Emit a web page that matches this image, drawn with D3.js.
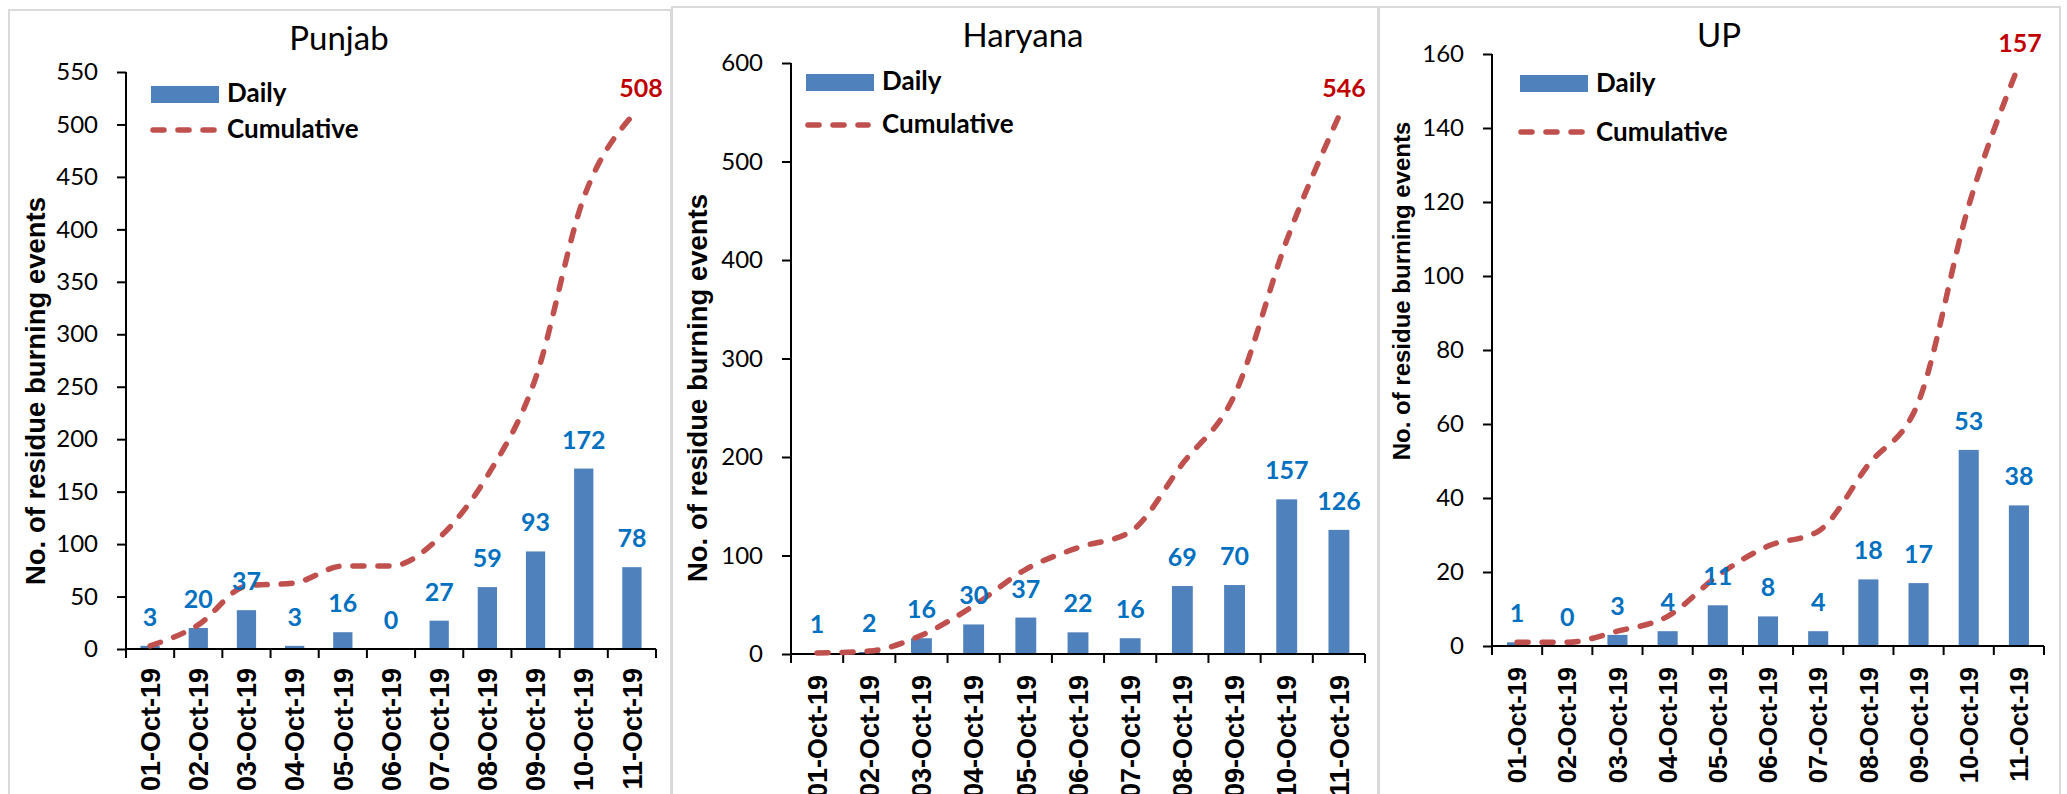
<!DOCTYPE html>
<html>
<head>
<meta charset="utf-8">
<script src="https://cdn.jsdelivr.net/npm/d3@7"></script>
<style>
  body { margin: 0; background: #fff; }
  svg { display: block; }
</style>
</head>
<body>
<svg id="chart" width="2067" height="794"></svg>
<script>
// 数据
var dates = ["01-Oct-19", "02-Oct-19", "03-Oct-19", "04-Oct-19", "05-Oct-19", "06-Oct-19",
             "07-Oct-19", "08-Oct-19", "09-Oct-19", "10-Oct-19", "11-Oct-19"];

var punjabDaily = [3, 20, 37, 3, 16, 0, 27, 59, 93, 172, 78];
var punjabCumulative = [3, 23, 60, 63, 79, 79, 106, 165, 258, 430, 508];
var punjabTicks = [0, 50, 100, 150, 200, 250, 300, 350, 400, 450, 500, 550];

var haryanaDaily = [1, 2, 16, 30, 37, 22, 16, 69, 70, 157, 126];
var haryanaCumulative = [1, 3, 19, 49, 86, 108, 124, 193, 263, 420, 546];
var haryanaTicks = [0, 100, 200, 300, 400, 500, 600];

var upDaily = [1, 0, 3, 4, 11, 8, 4, 18, 17, 53, 38];
var upCumulative = [1, 1, 4, 8, 19, 27, 31, 49, 66, 119, 157];
var upTicks = [0, 20, 40, 60, 80, 100, 120, 140, 160];

var yTitleText = "No. of residue burning events";

// 面板布局
var panels = [
  { title: "Punjab", daily: punjabDaily, cum: punjabCumulative, ticks: punjabTicks,
    box: [9, 10, 662], x0: 126, x1: 656, y0: 649, y1: 72, titleX: 339, titleY: 50,
    leg: { rx: 151, ry: 86, rw: 68, rh: 17, tx: 227, dailyY: 102, dashY: 130, dx0: 150, dx1: 214, cumY: 138 },
    endDx: 9, endDy: 19, yTitleX: 35, yTitleY: 391, yTitleSize: 27.5, dateTop: 668, dateSize: 27 },
  { title: "Haryana", daily: haryanaDaily, cum: haryanaCumulative, ticks: haryanaTicks,
    box: [672, 7, 706], x0: 791, x1: 1365, y0: 654, y1: 63, titleX: 1023, titleY: 47,
    leg: { rx: 806, ry: 74, rw: 68, rh: 17, tx: 882, dailyY: 90, dashY: 125, dx0: 805, dx1: 868, cumY: 133 },
    endDx: 5, endDy: 19, yTitleX: 697, yTitleY: 388, yTitleSize: 27.5, dateTop: 675, dateSize: 27 },
  { title: "UP", daily: upDaily, cum: upCumulative, ticks: upTicks,
    box: [1379, 7, 681], x0: 1492, x1: 2044, y0: 646, y1: 54, titleX: 1719, titleY: 47,
    leg: { rx: 1520, ry: 75, rw: 68, rh: 17, tx: 1596, dailyY: 92, dashY: 132, dx0: 1518, dx1: 1582, cumY: 141 },
    endDx: 1, endDy: 13, yTitleX: 1401, yTitleY: 291, yTitleSize: 24, dateTop: 667, dateSize: 25.5 }
];

var svg = d3.select("#chart");
var barColor = "#4F81BD";
var lineColor = "#C0504D";
var calibri = "Lato, 'Open Sans', sans-serif";
var arial = "'Liberation Sans', Arial, sans-serif";

panels.forEach(function(p) {
  var g = svg.append("g");

  // 边框
  g.append("rect")
    .attr("x", p.box[0]).attr("y", p.box[1])
    .attr("width", p.box[2]).attr("height", 800)
    .attr("fill", "none").attr("stroke", "#D9D9D9").attr("stroke-width", 2);

  var x = d3.scaleBand().domain(dates).range([p.x0, p.x1]).paddingInner(0).paddingOuter(0);
  var y = d3.scaleLinear().domain([0, p.ticks[p.ticks.length - 1]]).range([p.y0, p.y1]);
  var cx = function(d) { return x(d) + x.bandwidth() / 2; };
  var barW = x.bandwidth() * 0.4;

  // 柱子
  g.append("g").selectAll("rect")
    .data(p.daily)
    .enter().append("rect")
    .attr("x", function(d, i) { return cx(dates[i]) - barW / 2; })
    .attr("y", function(d) { return y(d); })
    .attr("width", barW)
    .attr("height", function(d) { return y(0) - y(d); })
    .attr("fill", barColor);

  // Y 轴
  var yAxis = d3.axisLeft(y).tickValues(p.ticks).tickSize(9).tickPadding(19).tickSizeOuter(0);
  var ya = g.append("g").attr("transform", "translate(" + p.x0 + ",0)").call(yAxis);
  ya.select(".domain").attr("stroke", "#000").attr("stroke-width", 2)
    .attr("d", "M0," + y(0) + "V" + p.y1);
  ya.selectAll(".tick line").attr("stroke", "#000").attr("stroke-width", 2);
  ya.selectAll(".tick text")
    .style("font-family", calibri).style("font-size", "24px").attr("fill", "#000");

  // X 轴线与刻度（刻度在类别边界）
  g.append("line")
    .attr("x1", p.x0).attr("x2", p.x1).attr("y1", y(0)).attr("y2", y(0))
    .attr("stroke", "#000").attr("stroke-width", 2);
  var bounds = dates.map(function(d) { return x(d); }).concat([p.x1]);
  g.append("g").selectAll("line")
    .data(bounds)
    .enter().append("line")
    .attr("x1", function(d) { return d; }).attr("x2", function(d) { return d; })
    .attr("y1", y(0)).attr("y2", y(0) + 9)
    .attr("stroke", "#000").attr("stroke-width", 2);

  // 日期标签
  g.append("g").selectAll("text")
    .data(dates)
    .enter().append("text")
    .attr("transform", function(d) { return "translate(" + cx(d) + "," + p.dateTop + ") rotate(-90)"; })
    .attr("text-anchor", "end")
    .attr("dy", "0.36em")
    .style("font-family", arial).style("font-weight", "bold").style("font-size", p.dateSize + "px")
    .text(function(d) { return d; });

  // 累计曲线
  var line = d3.line()
    .x(function(d, i) { return cx(dates[i]); })
    .y(function(d) { return y(d); })
    .curve(d3.curveMonotoneX);
  g.append("path")
    .datum(p.cum)
    .attr("d", line)
    .attr("fill", "none")
    .attr("stroke", lineColor)
    .attr("stroke-width", 5.5)
    .attr("stroke-linecap", "round")
    .attr("stroke-dasharray", "11,14");

  // 柱子数值
  g.append("g").selectAll("text")
    .data(p.daily)
    .enter().append("text")
    .attr("x", function(d, i) { return cx(dates[i]); })
    .attr("y", function(d) { return y(d) - 20; })
    .attr("text-anchor", "middle")
    .style("font-family", calibri).style("font-weight", "bold").style("font-size", "25px")
    .attr("fill", "#0070C0")
    .text(function(d) { return d; });

  // 累计末值
  var last = p.cum.length - 1;
  g.append("text")
    .attr("x", cx(dates[last]) + p.endDx)
    .attr("y", y(p.cum[last]) - p.endDy)
    .attr("text-anchor", "middle")
    .style("font-family", calibri).style("font-weight", "bold").style("font-size", "25px")
    .attr("fill", "#C00000")
    .text(p.cum[last]);

  // 标题
  g.append("text")
    .attr("x", p.titleX).attr("y", p.titleY)
    .attr("text-anchor", "middle")
    .style("font-family", calibri).style("font-size", "33px")
    .text(p.title);

  // Y 轴标题
  g.append("text")
    .attr("transform", "translate(" + p.yTitleX + "," + p.yTitleY + ") rotate(-90)")
    .attr("text-anchor", "middle")
    .attr("dy", "0.36em")
    .style("font-family", arial).style("font-weight", "bold").style("font-size", p.yTitleSize + "px")
    .text(yTitleText);

  // 图例
  var L = p.leg;
  g.append("rect")
    .attr("x", L.rx).attr("y", L.ry).attr("width", L.rw).attr("height", L.rh)
    .attr("fill", barColor);
  g.append("text")
    .attr("x", L.tx).attr("y", L.dailyY)
    .style("font-family", calibri).style("font-weight", "bold").style("font-size", "26px")
    .text("Daily");
  g.append("line")
    .attr("x1", L.dx0 + 3).attr("x2", L.dx1).attr("y1", L.dashY).attr("y2", L.dashY)
    .attr("stroke", lineColor).attr("stroke-width", 5.5)
    .attr("stroke-linecap", "round").attr("stroke-dasharray", "11,14");
  g.append("text")
    .attr("x", L.tx).attr("y", L.cumY)
    .style("font-family", calibri).style("font-weight", "bold").style("font-size", "26px")
    .text("Cumulative");
});
</script>
</body>
</html>
